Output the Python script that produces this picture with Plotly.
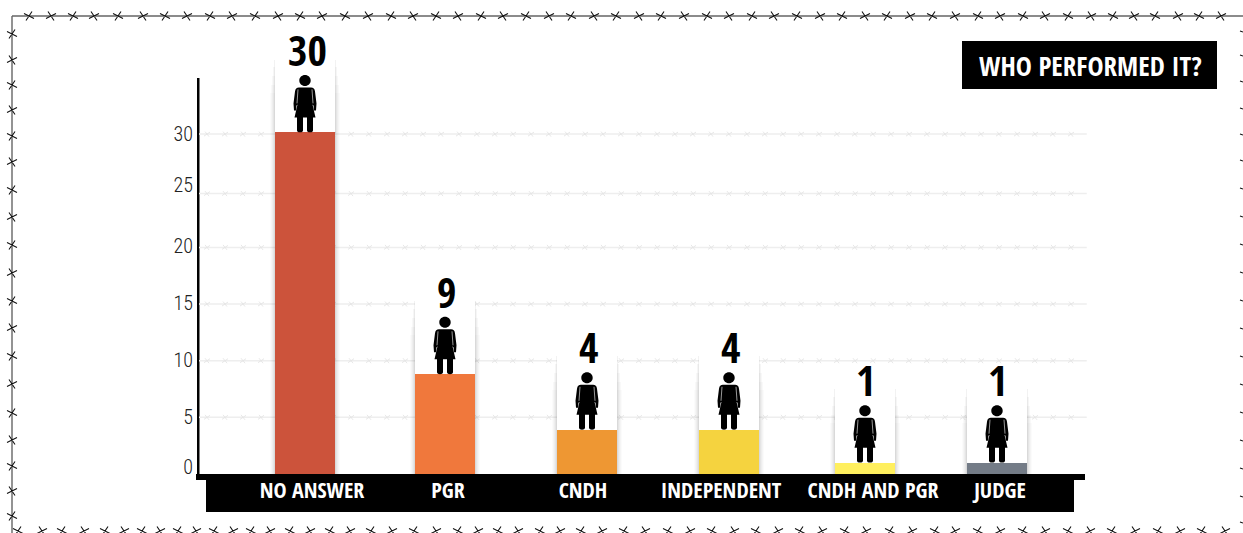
import plotly.graph_objects as go

# ---- data
categories = ["NO ANSWER", "PGR", "CNDH", "INDEPENDENT", "CNDH AND PGR", "JUDGE"]
counts = [30, 9, 4, 4, 1, 1]                    # printed numbers
bar_heights = [30.15, 8.8, 3.9, 3.9, 1.0, 1.0]  # heights as drawn
bar_colors = ["#CC533B", "#F0783C", "#EE9733", "#F5D33F", "#FFEF5E", "#747C87"]
bar_x = [305, 445, 587, 729, 865, 997]
label_x = [312, 448, 583, 721, 873, 1000]
number_x = [307, 446, 588, 730, 865, 997]
grid_values = [5.0, 10.0, 15.0, 20.0, 24.75, 30.0]
tick_text = ["0", "5", "10", "15", "20", "25", "30"]
tick_vals = [0.6, 5.05, 10.1, 15.05, 20.1, 25.5, 30]
title_text = "WHO PERFORMED IT?"

# ---- layout geometry (window pixels)
W, H = 1243, 533
L, R, T, B = 199, 1085, 60, 474
AXIS_TOP = 78
BOLD = "Open Sans Condensed"
LIGHT = "Roboto Condensed"


def px(x):
    return (x - L) / (R - L)


def py(y):
    return (B - y) / (B - T)


def rect(x0, y0, x1, y1, color, layer="below"):
    return dict(type="rect", xref="paper", yref="paper", x0=px(x0), x1=px(x1), y0=py(y0), y1=py(y1),
                fillcolor=color, line_width=0, layer=layer)


def seg_path(segs):
    return " ".join(f"M{px(a):.5f},{py(b):.5f}L{px(c):.5f},{py(d):.5f}" for a, b, c, d in segs)


def wire(segs, color, width):
    return dict(type="path", xref="paper", yref="paper", path=seg_path(segs), line=dict(color=color, width=width), layer="above")


def barb(cx, cy, k):
    flip = 1 if k % 2 else -1
    return [(cx - 3, cy - 4.5 * flip, cx + 3, cy + 4.5 * flip), (cx - 5, cy + 2.5 * flip, cx + 5, cy - 2.5 * flip)]


top_barbs = [29, 51, 73, 94, 118, 143, 165, 187, 210, 232, 255, 278, 300, 322, 345, 368, 391, 413, 436, 458, 481, 503,
             526, 549, 571, 594, 616, 639, 661, 684, 707, 729, 752, 774, 797, 820, 842, 865, 887, 910, 932, 955, 978,
             1000, 1023, 1045, 1068, 1091, 1113, 1134, 1155, 1178, 1199, 1221]
left_barbs = [34, 60, 85, 110, 136, 162, 190, 217, 245, 273, 301, 328, 356, 384, 413, 440, 466, 491, 516]
bottom_barbs = [18, 42, 62, 84, 105, 124, 142, 160, 178, 196, 214, 233, 251, 270, 290, 310, 330, 350, 371, 392, 414, 436,
                458, 478, 498, 518, 540, 560, 581, 602, 624, 645, 668, 690, 712, 734, 756, 778, 800, 822, 845, 866, 890,
                912, 935, 955, 978, 1000, 1023, 1045, 1068, 1090, 1112, 1135, 1158, 1180, 1202, 1225]
right_barbs = [31, 55, 81, 108, 134, 160, 188, 216, 244, 272, 300, 328, 356, 384, 412, 440, 468, 496, 522]

frame = [(12, 16, 1243, 16), (12, 16, 12, 533)]
barbs = []
for i, x in enumerate(top_barbs):
    barbs += barb(x, 16, i)
for i, y in enumerate(left_barbs):
    barbs += barb(12, y, i)
for i, x in enumerate(bottom_barbs):
    barbs += barb(x, 531, i)
for i, y in enumerate(right_barbs):
    barbs += [(1240, y, 1243, y + 1)]

# ---- woman icon, pixels from the feet, y up
ICON = ("M0,45 L6,45 C8.5,45 9.5,44 10,41 L11.5,29 L11,22 L9,22 L8.5,27 L7.5,28 L10.5,15 L8,15 L8,2 "
        "C8,-0.6 2,-0.6 2,2 L2,15 L-2,15 L-2,2 C-2,-0.6 -8,-0.6 -8,2 L-8,15 L-10.5,15 L-7.5,28 L-8.5,27 L-9,22 "
        "L-11,22 L-11.5,29 L-10,41 C-9.5,44 -8.5,45 -6,45 Z "
        "M0,46.5 C3.2,46.5 5.7,48.9 5.7,52 C5.7,55.1 3.2,57.5 0,57.5 C-3.2,57.5 -5.7,55.1 -5.7,52 C-5.7,48.9 -3.2,46.5 0,46.5 Z")
ARM_GAPS = "M7,43 L8,29 M-7,43 L-8,29"

shapes = [
    rect(206, 474, 1074, 512, "#000000"),
    rect(196, 474, 1085, 480, "#000000"),
    rect(197, AXIS_TOP, 199.5, 480, "#000000"),
    rect(962, 41, 1217, 89, "#000000"),
    wire(frame, "#666666", 1.4),
    wire(barbs, "#111111", 1.1),
]

# barbed gridlines, anchored to the value axis and below the bars
barb_path = " ".join(f"M{dx - 3},-2 L{dx + 3},2 M{dx - 2},2.5 L{dx + 2},-2.5" for dx in range(8, 888, 18))
for g in grid_values:
    shapes.append(dict(type="line", xref="paper", yref="y", x0=0, x1=1.002, y0=g, y1=g,
                       line=dict(color="#eeeeee", width=1.5), layer="below"))
    shapes.append(dict(type="path", xref="x", yref="y", xsizemode="pixel", ysizemode="pixel", xanchor=L, yanchor=g,
                       path=barb_path, line=dict(color="#e4e4e4", width=0.9), layer="below"))

for x, h in zip(bar_x, bar_heights):
    shapes.append(dict(type="path", xref="x", yref="y", xsizemode="pixel", ysizemode="pixel", xanchor=x, yanchor=h,
                       path=ICON, fillcolor="#000000", line_width=0, layer="above"))
    shapes.append(dict(type="path", xref="x", yref="y", xsizemode="pixel", ysizemode="pixel", xanchor=x, yanchor=h,
                       path=ARM_GAPS, line=dict(color="#dddddd", width=0.7), layer="above"))

fig = go.Figure()

# soft shadow columns behind the bars
for width, alpha, extra in [(70, 0.016, 3.5), (68, 0.022, 4.2), (66, 0.028, 5.0), (64, 0.035, 5.8), (62, 0.05, 6.5)]:
    fig.add_trace(go.Bar(x=bar_x, y=[h + extra for h in bar_heights], width=width,
                         marker=dict(color=f"rgba(0,0,0,{alpha})", line_width=0),
                         hoverinfo="skip", showlegend=False, cliponaxis=False))
fig.add_trace(go.Bar(x=bar_x, y=[h + 7.2 for h in bar_heights], width=60, marker=dict(color="#ffffff", line_width=0),
                     hoverinfo="skip", showlegend=False, cliponaxis=False))
fig.add_trace(go.Bar(x=bar_x, y=bar_heights, width=60, marker=dict(color=bar_colors, line_width=0),
                     name="Count", showlegend=False, cliponaxis=False))

annotations = [
    dict(x=x, y=h, yshift=83, xref="x", yref="y", text=f"<b>{c}</b>", showarrow=False,
         font=dict(family=BOLD, size=42, color="#000000"), xanchor="center", yanchor="middle")
    for x, h, c in zip(number_x, bar_heights, counts)
]
annotations.append(dict(x=px(1090.5), y=py(65.5), xref="paper", yref="paper", text=f"<b>{title_text}</b>", showarrow=False,
                        font=dict(family=BOLD, size=27, color="#ffffff"), xanchor="center", yanchor="middle"))

fig.update_layout(
    template="none",
    width=W, height=H, margin=dict(l=L, r=W - R, t=T, b=H - B, pad=0, autoexpand=False),
    paper_bgcolor="#ffffff", plot_bgcolor="#ffffff", barmode="overlay", bargap=0,
    showlegend=False, shapes=shapes, annotations=annotations,
    xaxis=dict(range=[L, R], tickmode="array", tickvals=label_x, ticktext=[f"<b>{c}</b>" for c in categories],
               showgrid=False, zeroline=False, showline=False, ticks="", ticklabelstandoff=1, tickangle=0, automargin=False,
               tickfont=dict(family=BOLD, size=22, color="#ffffff")),
    yaxis=dict(range=[0, (B - T) / 11.33], tickmode="array", tickvals=tick_vals, ticktext=tick_text,
               showgrid=False, zeroline=False, showline=False, automargin=False,
               ticks="", ticklabelstandoff=5, tickfont=dict(family=LIGHT, size=20, weight=300, color="#222222")),
)

fig.write_html("out.html", config={"displayModeBar": False},
               post_script="document.body.style.margin='0';document.body.style.overflow='hidden';")
